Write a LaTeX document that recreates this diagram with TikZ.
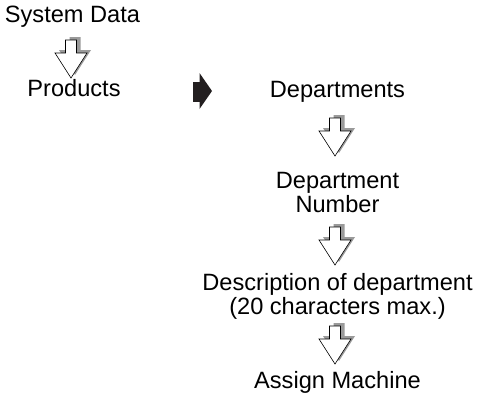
\documentclass[tikz,border=0pt]{standalone}
\usepackage{fontspec}
\setmainfont{Liberation Sans}
\definecolor{shadowgray}{HTML}{9A9A9A}
\definecolor{arrowblack}{HTML}{231F20}
\tikzset{
  lbl/.style={inner sep=0pt, anchor=base, align=center, font=\fontsize{23.6bp}{24bp}\selectfont},
  pics/hollowdown/.style={code={
    \fill[shadowgray] (-1.5,-3) -- (9.5,-3) -- (9.5,10) -- (20,10) -- (4,35) -- (-12,10) -- (-1.5,10) -- cycle;
    \draw[black, line width=0.6bp, fill=white, line join=miter] (-5.5,0) -- (5.5,0) -- (5.5,13) -- (16,13) -- (0,38) -- (-16,13) -- (-5.5,13) -- cycle;
  }}
}
\begin{document}
\begin{tikzpicture}[x=1bp, y=-1bp]
\useasboundingbox (0,0) rectangle (478,398);
\node[lbl] (sys) at (72.5,22.7) {System Data};
\node[lbl] (prod) at (74,96.7) {Products};
\node[lbl] (dep) at (337.5,97.5) {Departments};
\node[lbl] (depnum) at (337.5,212) {Department\\Number};
\node[lbl] (desc) at (337.5,314) {Description of department\\(20 characters max.)};
\node[lbl] (assign) at (337.5,388) {Assign Machine};
\pic at (71,40) {hollowdown};
\pic at (335,118) {hollowdown};
\pic at (335,227) {hollowdown};
\pic at (335,326) {hollowdown};
\fill[arrowblack] (193,82) rectangle (200,102);
\fill[arrowblack] (199.5,73) -- (212,91) -- (199.5,109) -- cycle;
\end{tikzpicture}
\end{document}
